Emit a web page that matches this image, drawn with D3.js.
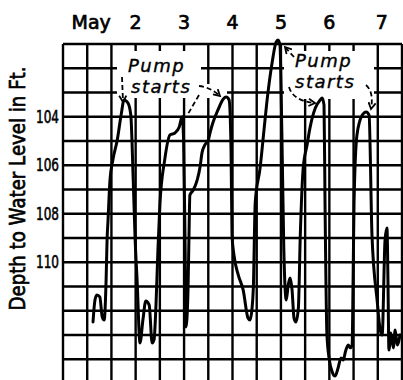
<!DOCTYPE html>
<html>
<head>
<meta charset="utf-8">
<script src="https://cdn.jsdelivr.net/npm/d3@7"></script>
<style>
  html, body { margin: 0; padding: 0; background: #fff; }
  svg { display: block; }
</style>
</head>
<body>
<div id="chart"></div>
<script>
// Well hydrograph: depth to water level (ft) over six days in May.
const dayLabels = ["May", "2", "3", "4", "5", "6", "7"];
const labelDays = [1, 2, 3, 4, 5, 6, 7];
const depthTicks = [104, 106, 108, 110];

// Recorder trace: time in days (May), depth to water in feet
const traceDay = [
  1.12, 1.16, 1.20, 1.26, 1.31, 1.35, 1.39, 1.41, 1.43, 1.47, 1.53, 1.62, 1.70, 1.76, 1.84,
  1.90, 1.95, 1.99, 2.03, 2.09, 2.15, 2.21, 2.28, 2.34, 2.38, 2.42, 2.46, 2.50, 2.60, 2.71,
  2.81, 2.90, 2.96, 2.99, 3.02, 3.04, 3.08, 3.10, 3.12, 3.19, 3.27, 3.33, 3.37, 3.43, 3.50,
  3.54, 3.60, 3.70, 3.81, 3.87, 3.93, 3.97, 3.99, 4.03, 4.12, 4.22, 4.32, 4.36, 4.40, 4.43,
  4.47, 4.57, 4.65, 4.71, 4.82, 4.90, 4.94, 4.98, 5.02, 5.06, 5.11, 5.15, 5.19, 5.23, 5.27,
  5.31, 5.36, 5.40, 5.46, 5.54, 5.60, 5.71, 5.81, 5.85, 5.89, 5.91, 5.95, 6.00, 6.06, 6.12,
  6.18, 6.24, 6.29, 6.33, 6.39, 6.43, 6.47, 6.49, 6.51, 6.57, 6.68, 6.76, 6.82, 6.88, 6.99,
  7.05, 7.09, 7.15, 7.19, 7.21, 7.23, 7.27, 7.32, 7.36, 7.40, 7.46
];
const traceDepth = [
  112.46, 111.56, 111.35, 111.43, 112.26, 112.38, 110.73, 109.08, 108.26, 106.61, 105.78, 104.96, 103.93, 103.31, 103.43,
  103.93, 106.61, 109.08, 110.73, 113.33, 112.38, 111.60, 111.77, 113.33, 113.20, 111.77, 109.50, 107.64, 105.78, 104.75,
  104.67, 104.42, 104.00, 104.96, 109.08, 112.67, 111.27, 109.08, 107.23, 107.02, 106.61, 106.07, 105.49, 105.16, 104.96,
  104.63, 104.22, 103.72, 103.27, 103.19, 103.31, 105.37, 108.88, 109.70, 110.53, 111.14, 112.30, 112.38, 111.97, 111.06,
  107.52, 106.11, 104.55, 103.39, 101.74, 100.92, 100.84, 101.04, 104.75, 109.49, 111.56, 110.94, 110.65, 111.14, 112.30,
  112.46, 111.89, 108.88, 106.11, 105.16, 104.46, 103.64, 103.31, 103.23, 103.52, 107.43, 113.00, 114.03, 114.53, 114.69,
  114.36, 113.95, 114.03, 113.70, 113.41, 113.53, 113.41, 110.73, 107.52, 104.75, 103.93, 103.80, 103.93, 108.88, 111.64,
  112.79, 113.00, 109.08, 108.59, 110.73, 113.62, 112.92, 113.53, 112.79, 113.41, 113.00
];

const W = 403, H = 380;
const svg = d3.select("#chart").append("svg")
  .attr("width", W).attr("height", H)
  .style("background", "#fff");

const x = d3.scaleLinear().domain([0.5, 7.5]).range([63, 402]);
const y = d3.scaleLinear().domain([101, 115]).range([44, 383.5]);

// Grid: half-day verticals, one-foot horizontals
const vDays = d3.range(0.5, 7.51, 0.5);
const hFeet = d3.range(101, 115.01, 1);

const grid = svg.append("g").attr("stroke", "#000").attr("stroke-width", 2.4);
grid.selectAll("line.v").data(vDays).join("line")
  .attr("class", "v")
  .attr("x1", d => x(d)).attr("x2", d => x(d))
  .attr("y1", y(101)).attr("y2", y(115));
grid.selectAll("line.h").data(hFeet).join("line")
  .attr("class", "h")
  .attr("x1", x(0.5)).attr("x2", x(7.5))
  .attr("y1", d => y(d)).attr("y2", d => y(d));

// Cleared space behind the annotations
const clear = svg.append("g").attr("fill", "#fff");
clear.append("rect").attr("x", 117).attr("y", 51).attr("width", 84).attr("height", 47);
clear.append("rect").attr("x", 200).attr("y", 84).attr("width", 27).attr("height", 14);
clear.append("rect").attr("x", 284).attr("y", 51).attr("width", 90).attr("height", 48);

// Top day labels
svg.append("g")
  .attr("font-family", "DejaVu Sans")
  .attr("font-size", 19)
  .attr("fill", "#000").attr("stroke", "#000").attr("stroke-width", 0.7)
  .attr("text-anchor", "middle")
  .selectAll("text").data(labelDays).join("text")
  .attr("x", (d, i) => x(d) + (i === 0 ? 4 : (i === 6 ? 4 : 0)))
  .attr("y", 29)
  .text((d, i) => dayLabels[i]);

// Depth tick labels
svg.append("g")
  .attr("font-family", "DejaVu Sans")
  .attr("font-size", 17)
  .attr("fill", "#000").attr("stroke", "#000").attr("stroke-width", 0.6)
  .attr("text-anchor", "end")
  .selectAll("text").data(depthTicks).join("text")
  .attr("x", 59)
  .attr("y", d => y(d) + 6)
  .attr("textLength", 23)
  .attr("lengthAdjust", "spacingAndGlyphs")
  .text(d => d);

// Axis title
svg.append("text")
  .attr("transform", `translate(25,${(y(104) + y(110)) / 2 - 1}) rotate(-90)`)
  .attr("font-family", "DejaVu Sans")
  .attr("font-size", 21)
  .attr("text-anchor", "middle")
  .attr("textLength", 244)
  .attr("lengthAdjust", "spacingAndGlyphs")
  .attr("fill", "#000").attr("stroke", "#000").attr("stroke-width", 0.7)
  .text("Depth to Water Level in Ft.");

// Water level trace
const pts = traceDay.map((d, i) => [d, traceDepth[i]]);
const line = d3.line().x(d => x(d[0])).y(d => y(d[1])).curve(d3.curveMonotoneX);
svg.append("path")
  .datum(pts)
  .attr("d", line)
  .attr("fill", "none")
  .attr("stroke", "#000")
  .attr("stroke-width", 3)
  .attr("stroke-linejoin", "round")
  .attr("stroke-linecap", "round");

// Arrowhead
svg.append("defs").append("marker")
  .attr("id", "tip")
  .attr("viewBox", "-8 -5 10 10")
  .attr("refX", 0).attr("refY", 0)
  .attr("markerWidth", 9).attr("markerHeight", 9)
  .attr("markerUnits", "userSpaceOnUse")
  .attr("orient", "auto")
  .append("path")
  .attr("d", "M-7,-4 L0,0 L-7,4")
  .attr("fill", "none").attr("stroke", "#000").attr("stroke-width", 2);

// Annotation leaders
const leaders = [
  { d: "M122,77 L123,102", arrow: true },
  { d: "M199,86 Q210,87 220,96", arrow: true },
  { d: "M199,95 L188,114", arrow: false },
  { d: "M294,57 L285,47", arrow: true },
  { d: "M289,87 Q293,101 315,103", arrow: true },
  { d: "M366,85 Q374,92 371,109", arrow: true }
];
svg.append("g").selectAll("path").data(leaders).join("path")
  .attr("d", d => d.d)
  .attr("fill", "none")
  .attr("stroke", "#000")
  .attr("stroke-width", 1.8)
  .attr("stroke-dasharray", "5,3")
  .attr("marker-end", d => d.arrow ? "url(#tip)" : null);

// Annotation text
const notes = [
  { x: 128, y: 72, t: "Pump" },
  { x: 131, y: 93, t: "starts" },
  { x: 295, y: 67, t: "Pump" },
  { x: 295, y: 88, t: "starts" }
];
svg.append("g")
  .attr("font-family", "DejaVu Sans")
  .attr("font-style", "italic")
  .attr("font-size", 18)
  .attr("letter-spacing", 1.5)
  .attr("fill", "#000").attr("stroke", "#000").attr("stroke-width", 0.4)
  .selectAll("text").data(notes).join("text")
  .attr("x", d => d.x).attr("y", d => d.y)
  .text(d => d.t);
</script>
</body>
</html>
